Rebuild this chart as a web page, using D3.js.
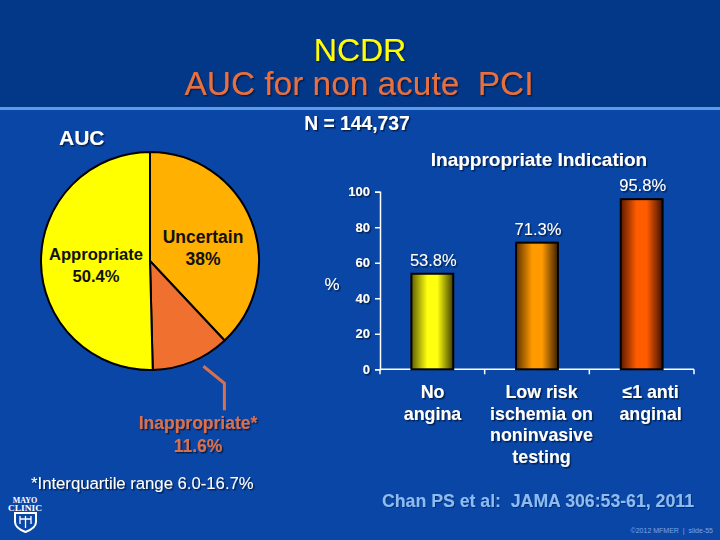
<!DOCTYPE html>
<html><head><meta charset="utf-8">
<script src="https://cdn.jsdelivr.net/npm/d3@7"></script>
<style>
html,body{margin:0;padding:0;background:#0a46a6;}
svg{display:block;font-family:"Liberation Sans",Arial,sans-serif;}
text{white-space:pre;}
</style></head>
<body>
<svg id="c" width="720" height="540"></svg>
<script>
// ---- data ----
const titleLines = ["NCDR", "AUC for non acute  PCI"];
const pieLabels = ["Uncertain", "Inappropriate*", "Appropriate"];
const pieValues = [38, 11.6, 50.4];
const pieValueLabels = ["38%", "11.6%", "50.4%"];
const sampleLabel = "N = 144,737";
const barTitle = "Inappropriate Indication";
const barCategories = ["No angina", "Low risk ischemia", "<=1 anti anginal"];
const barCategoryLines = [["No","angina"],["Low risk","ischemia on","noninvasive","testing"],["\u22641 anti","anginal"]];
const barValues = [53.8, 71.3, 95.8];
const barValueLabels = ["53.8%", "71.3%", "95.8%"];
const yTicks = [0, 20, 40, 60, 80, 100];
const footnote = "*Interquartile range 6.0-16.7%";
const citation = "Chan PS et al:  JAMA 306:53-61, 2011";
const copyright = "\u00a92012 MFMER  |  slide-55";

// ---- drawing ----
const svg = d3.select("#c");
const defs = svg.append("defs");
const sh = defs.append("filter").attr("id","sh").attr("x","-10%").attr("y","-20%").attr("width","130%").attr("height","150%");
sh.append("feDropShadow").attr("dx",1.5).attr("dy",1.5).attr("stdDeviation",0.4).attr("flood-color","#001a4a").attr("flood-opacity",0.9);
const sh2 = defs.append("filter").attr("id","sh2").attr("x","-10%").attr("y","-20%").attr("width","130%").attr("height","150%");
sh2.append("feDropShadow").attr("dx",1).attr("dy",1).attr("stdDeviation",0.3).attr("flood-color","#00245e").attr("flood-opacity",0.7);

// background
svg.append("rect").attr("x",0).attr("y",0).attr("width",720).attr("height",540).attr("fill","#0a46a6");
svg.append("rect").attr("x",0).attr("y",0).attr("width",720).attr("height",107).attr("fill","#033788");
svg.append("rect").attr("x",0).attr("y",107).attr("width",720).attr("height",3).attr("fill","#5b9be9");

function txt(x, y, s, o) {
  o = o || {};
  return svg.append("text").attr("x",x).attr("y",y).text(s)
    .attr("font-size",o.size||16).attr("font-weight",o.weight||"normal")
    .attr("fill",o.fill||"#fff").attr("text-anchor",o.anchor||"middle")
    .attr("filter",o.shadow===false?null:(o.shadow||"url(#sh)"));
}

// titles
txt(360, 61, titleLines[0], {size:32, fill:"#ffff00"});
txt(359, 95, titleLines[1], {size:33.4, fill:"#e8703c"});

// AUC label and N
txt(59, 145, "AUC", {size:21, weight:"bold", anchor:"start"});
const nT = txt(357, 130, sampleLabel, {size:19.3, weight:"bold"});
const nb = nT.node().getBBox();
svg.append("line").attr("x1",nb.x).attr("x2",nb.x+nb.width).attr("y1",134).attr("y2",134)
  .attr("stroke","#fff").attr("stroke-width",1.6).attr("filter","url(#sh)");

// ---- pie ----
const cx = 150, cy = 261, R = 109;
const pieColors = ["#ffb000", "#f07030", "#ffff00"];
const pie = d3.pie().sort(null).startAngle(0).endAngle(2*Math.PI)(pieValues);
const arc = d3.arc().innerRadius(0).outerRadius(R);
const pg = svg.append("g").attr("transform",`translate(${cx},${cy})`);
pg.selectAll("path").data(pie).join("path")
  .attr("d",arc).attr("fill",(d,i)=>pieColors[i])
  .attr("stroke","#000").attr("stroke-width",2).attr("stroke-linejoin","round");

// pie labels
const iArc = pie[1];
txt(203, 243, pieLabels[0], {size:17.5, weight:"bold", fill:"#111", shadow:false});
txt(203, 265, pieValueLabels[0], {size:17.5, weight:"bold", fill:"#111", shadow:false});
txt(96, 260, pieLabels[2], {size:16.6, weight:"bold", fill:"#111", shadow:false});
txt(96, 282, pieValueLabels[2], {size:16.6, weight:"bold", fill:"#111", shadow:false});

// leader for inappropriate
const midA = (iArc.startAngle + iArc.endAngle)/2 - 0.08;
const p0 = [cx + (R+9)*Math.sin(midA), cy - (R+9)*Math.cos(midA)];
const p1 = [p0[0] + 21, p0[1] + 17];
const p2 = [p1[0], p1[1] + 27];
svg.append("path").attr("d", d3.line()([p0,p1,p2]))
  .attr("fill","none").attr("stroke","#d8704c").attr("stroke-width",3);
txt(198, 429, pieLabels[1], {size:17.5, weight:"bold", fill:"#d8704c"});
txt(198, 452, pieValueLabels[1], {size:17.5, weight:"bold", fill:"#d8704c"});

// ---- bars ----
const x = d3.scaleBand().domain(barCategories).range([380, 694]).paddingInner(0.6).paddingOuter(0.3);
const y = d3.scaleLinear().domain([0,100]).range([369.3, 191.7]);
const barCols = [["#5e5e00","#ffff10","#3e3e00"],["#5e3200","#ff9a00","#3e2000"],["#5e1a00","#ff5c00","#3e1000"]];
barCols.forEach((c,i)=>{
  const g = defs.append("linearGradient").attr("id","bg"+i).attr("x1","0").attr("x2","1").attr("y1","0").attr("y2","0");
  g.append("stop").attr("offset","0%").attr("stop-color",c[0]);
  g.append("stop").attr("offset","38%").attr("stop-color",c[1]);
  g.append("stop").attr("offset","62%").attr("stop-color",c[1]);
  g.append("stop").attr("offset","100%").attr("stop-color",c[2]);
});

txt(539, 166, barTitle, {size:19, weight:"bold"});

// y axis
const ya = svg.append("g").attr("transform","translate(380,0)")
  .call(d3.axisLeft(y).tickValues(yTicks).tickSize(5).tickPadding(5));
ya.select(".domain").attr("stroke","#fff").attr("stroke-width",1.5);
ya.selectAll(".tick line").attr("stroke","#fff").attr("stroke-width",1.5);
ya.selectAll(".tick text").attr("fill","#fff").attr("font-size",13).attr("font-weight","bold")
  .attr("font-family","'Liberation Sans',Arial,sans-serif").attr("filter","url(#sh)");
txt(332, 290, "%", {size:17});

// x axis
const step = x.step(), off = (step - x.bandwidth())/2;
const bounds = barCategories.map(c => x(c) - off).concat([x(barCategories[2]) + x.bandwidth() + off]);
svg.append("line").attr("x1",bounds[0]).attr("x2",bounds[3]).attr("y1",y(0)).attr("y2",y(0))
  .attr("stroke","#fff").attr("stroke-width",1.5);
svg.selectAll(".xt").data(bounds).join("line").attr("class","xt")
  .attr("x1",d=>d).attr("x2",d=>d).attr("y1",y(0)).attr("y2",y(0)+5)
  .attr("stroke","#fff").attr("stroke-width",1.5);

svg.selectAll(".bar").data(barValues).join("rect").attr("class","bar")
  .attr("x",(d,i)=>x(barCategories[i])).attr("width",x.bandwidth())
  .attr("y",d=>y(d)).attr("height",d=>y(0)-y(d))
  .attr("fill",(d,i)=>`url(#bg${i})`).attr("stroke","#000").attr("stroke-width",2);

barValues.forEach((v,i)=>{
  txt(x(barCategories[i]) + x.bandwidth()/2 + 1, y(v) - 8, barValueLabels[i], {size:16.5});
});

// category labels
const xl = d3.scaleBand().domain(barCategories).range([378, 705]);
barCategoryLines.forEach((lines,i)=>{
  lines.forEach((l,j)=>{
    txt(xl(barCategories[i]) + xl.bandwidth()/2, 398 + j*21.7, l, {size:17.8, weight:"bold"});
  });
});

// footnote, citation, copyright
txt(31, 489, footnote, {size:16.7, anchor:"start"});
txt(538, 507, citation, {size:17.7, weight:"bold", fill:"#8cbcf4", shadow:"url(#sh2)"});
txt(713, 533, copyright, {size:7, fill:"#7aa6e8", anchor:"end", shadow:false});

// Mayo Clinic logo
const lg = svg.append("g").attr("fill","#fff");
lg.append("text").attr("x",25).attr("y",503).attr("text-anchor","middle").attr("font-family","'Liberation Serif',serif")
  .attr("font-weight","bold").attr("font-size",8).attr("fill","#fff").text("MAYO");
lg.append("text").attr("x",25).attr("y",511).attr("text-anchor","middle").attr("font-family","'Liberation Serif',serif")
  .attr("font-weight","bold").attr("font-size",8).attr("fill","#fff").attr("textLength",34).attr("lengthAdjust","spacingAndGlyphs").text("CLINIC");
lg.append("path").attr("d","M15,513 L36,513 L36,522 Q36,528 25.5,532 Q15,528 15,522 Z")
  .attr("fill","none").attr("stroke","#fff").attr("stroke-width",2);
lg.append("path").attr("d","M20,516 L20,524 M25.5,516 L25.5,528 M31,516 L31,524 M20,519 L31,519")
  .attr("fill","none").attr("stroke","#fff").attr("stroke-width",1.3);
</script>
</body></html>
